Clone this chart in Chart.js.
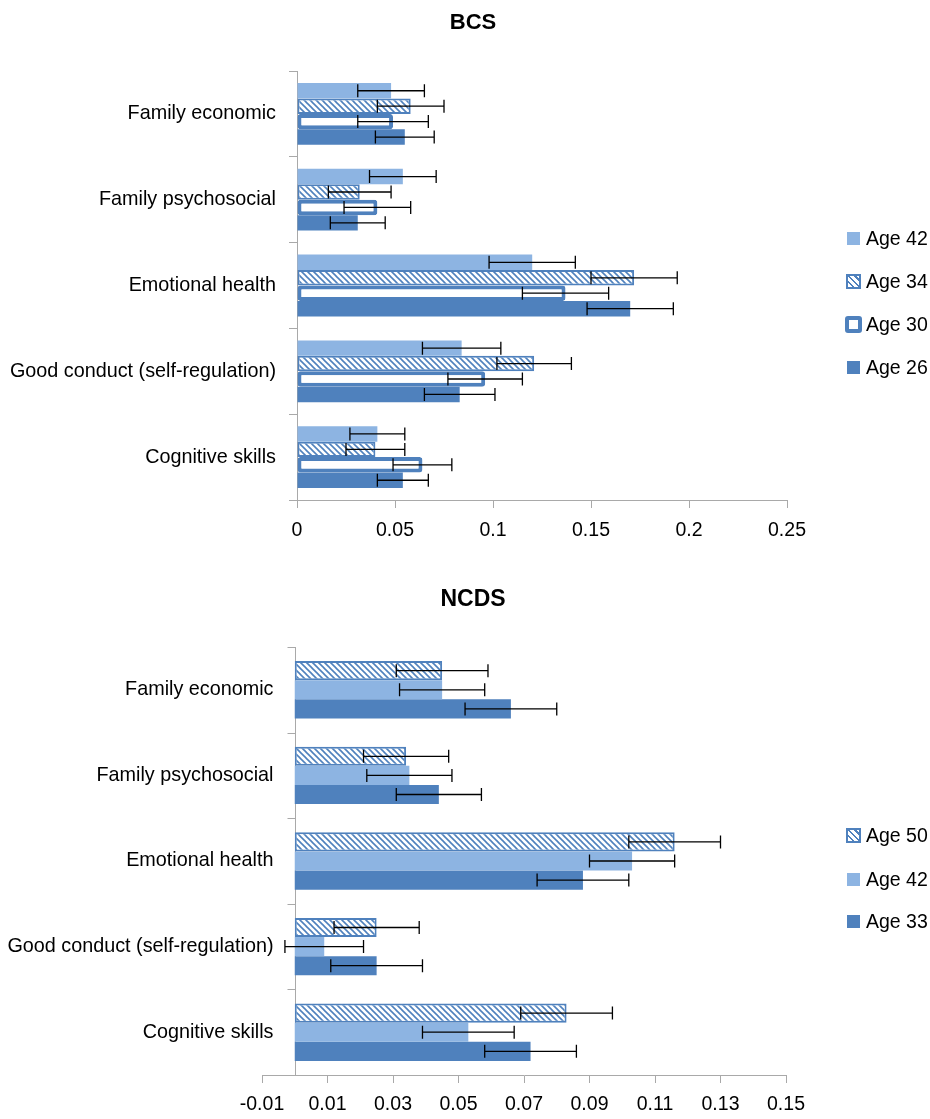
<!DOCTYPE html>
<html lang="en">
<head>
    <meta charset="UTF-8">
    <title>BCS / NCDS</title>
    <script src="https://cdn.jsdelivr.net/npm/chart.js"></script>
    <style>
        body {
            margin: 0;
            background: #fff;
            font-family: 'Liberation Sans', Arial, sans-serif;
            color: #000;
        }
        .page {
            position: relative;
            width: 930px;
            height: 1119px;
        }
        canvas {
            display: block;
        }
        .chart-title {
            position: absolute;
            left: 473px;
            transform: translateX(-50%);
            font-weight: bold;
            line-height: 1;
        }
        .legend-item {
            position: absolute;
            left: 844px;
            height: 24px;
            display: flex;
            align-items: center;
            font-size: 19.5px;
        }
        .swatch-box {
            width: 18px;
            height: 18px;
            margin-right: 4px;
            display: flex;
            align-items: center;
            justify-content: center;
        }
        .sw-light { width: 13px; height: 13px; background: #8db4e2; }
        .sw-dark { width: 13px; height: 13px; background: #4f81bd; }
        .sw-hatch {
            width: 15px; height: 15px; box-sizing: border-box;
            border: 2px solid #4f81bd;
            background: repeating-linear-gradient(45deg, #fff 0 3px, #4f81bd 3px 4.5px);
        }
        .sw-outline {
            width: 17px; height: 17px; box-sizing: border-box;
            border: 4px solid #4f81bd; border-radius: 3px; background: #fff;
        }
    </style>
</head>
<body>
<div class="page">
    <div class="chart-title" style="top: 11px; font-size: 22px;">BCS</div>
    <canvas id="bcsChart" width="930" height="560"></canvas>
    <div class="chart-title" style="top: 587px; font-size: 23px;">NCDS</div>
    <canvas id="ncdsChart" width="930" height="559"></canvas>

    <div class="legend-item" style="top: 226px;"><div class="swatch-box"><div class="sw-light"></div></div>Age 42</div>
    <div class="legend-item" style="top: 269px;"><div class="swatch-box"><div class="sw-hatch"></div></div>Age 34</div>
    <div class="legend-item" style="top: 312px;"><div class="swatch-box"><div class="sw-outline"></div></div>Age 30</div>
    <div class="legend-item" style="top: 355px;"><div class="swatch-box"><div class="sw-dark"></div></div>Age 26</div>

    <div class="legend-item" style="top: 823px;"><div class="swatch-box"><div class="sw-hatch"></div></div>Age 50</div>
    <div class="legend-item" style="top: 867px;"><div class="swatch-box"><div class="sw-light"></div></div>Age 42</div>
    <div class="legend-item" style="top: 909px;"><div class="swatch-box"><div class="sw-dark"></div></div>Age 33</div>
</div>

<script>
    const categories = ['Family economic', 'Family psychosocial', 'Emotional health', 'Good conduct (self-regulation)', 'Cognitive skills'];

    // BCS values and error half-widths
    const bcsAge42 = [0.048, 0.054, 0.120, 0.084, 0.041];
    const bcsAge42Err = [0.017, 0.017, 0.022, 0.020, 0.014];
    const bcsAge34 = [0.058, 0.032, 0.172, 0.121, 0.040];
    const bcsAge34Err = [0.017, 0.016, 0.022, 0.019, 0.015];
    const bcsAge30 = [0.049, 0.041, 0.137, 0.096, 0.064];
    const bcsAge30Err = [0.018, 0.017, 0.022, 0.019, 0.015];
    const bcsAge26 = [0.055, 0.031, 0.170, 0.083, 0.054];
    const bcsAge26Err = [0.015, 0.014, 0.022, 0.018, 0.013];

    // NCDS values and error half-widths
    const ncdsAge50 = [0.045, 0.034, 0.116, 0.025, 0.083];
    const ncdsAge50Err = [0.014, 0.013, 0.014, 0.013, 0.014];
    const ncdsAge42 = [0.045, 0.035, 0.103, 0.009, 0.053];
    const ncdsAge42Err = [0.013, 0.013, 0.013, 0.012, 0.014];
    const ncdsAge33 = [0.066, 0.044, 0.088, 0.025, 0.072];
    const ncdsAge33Err = [0.014, 0.013, 0.014, 0.014, 0.014];

    const bcsTicks = [0, 0.25, 0.05];      // min, max, step
    const ncdsTicks = [-0.01, 0.15, 0.02];

    const darkBlue = '#4f81bd';
    const lightBlue = '#8db4e2';
    const axisGray = '#a9a9a9';
    const labelFont = "19.8px 'Liberation Sans', Arial, sans-serif";

    Chart.defaults.font.family = "'Liberation Sans', Arial, sans-serif";
    Chart.defaults.font.size = 19.5;
    Chart.defaults.color = '#000';

    // diagonal hatch fill
    function makeHatch() {
        const c = document.createElement('canvas');
        c.width = 6; c.height = 6;
        const g = c.getContext('2d');
        g.fillStyle = '#fff';
        g.fillRect(0, 0, 6, 6);
        g.strokeStyle = darkBlue;
        g.lineWidth = 1.6;
        [[-6, 0], [0, 0], [6, 0]].forEach(([ox, oy]) => {
            g.beginPath();
            g.moveTo(ox - 1, oy - 1);
            g.lineTo(ox + 7, oy + 7);
            g.stroke();
        });
        return g.createPattern(c, 'repeat');
    }
    const hatch = makeHatch();

    const fmt = v => String(Math.round(v * 100) / 100);

    // error bars with caps, on top of the bars
    const errorBars = {
        id: 'errorBars',
        afterDatasetsDraw(chart) {
            const ctx = chart.ctx;
            const xs = chart.scales.x;
            ctx.save();
            ctx.strokeStyle = '#000';
            ctx.lineWidth = 1.3;
            chart.data.datasets.forEach((ds, d) => {
                const meta = chart.getDatasetMeta(d);
                meta.data.forEach((bar, i) => {
                    const lo = xs.getPixelForValue(ds.data[i] - ds.errors[i]);
                    const hi = xs.getPixelForValue(ds.data[i] + ds.errors[i]);
                    const y = bar.y;
                    ctx.beginPath();
                    ctx.moveTo(lo, y); ctx.lineTo(hi, y);
                    ctx.moveTo(lo, y - 6.5); ctx.lineTo(lo, y + 6.5);
                    ctx.moveTo(hi, y - 6.5); ctx.lineTo(hi, y + 6.5);
                    ctx.stroke();
                });
            });
            ctx.restore();
        }
    };

    // NCDS: value axis starts at -0.01, so the category axis and its labels sit at value 0
    const zeroAxis = {
        id: 'zeroAxis',
        beforeDatasetsDraw(chart) {
            const ctx = chart.ctx;
            const area = chart.chartArea;
            const ys = chart.scales.y;
            const x = Math.round(chart.scales.x.getPixelForValue(0)) + 0.5;
            const half = (ys.getPixelForValue(1) - ys.getPixelForValue(0)) / 2;
            ctx.save();
            ctx.strokeStyle = axisGray;
            ctx.lineWidth = 1;
            ctx.beginPath();
            ctx.moveTo(x, area.top);
            ctx.lineTo(x, area.bottom);
            for (let i = 0; i <= categories.length; i++) {
                const yy = Math.round(ys.getPixelForValue(i) - half) + 0.5;
                ctx.moveTo(x - 8, yy);
                ctx.lineTo(x, yy);
            }
            ctx.stroke();

            ctx.font = labelFont;
            ctx.fillStyle = '#000';
            ctx.textAlign = 'right';
            ctx.textBaseline = 'middle';
            chart.data.labels.forEach((lab, i) => {
                ctx.fillText(lab, x - 22, ys.getPixelForValue(i));
            });
            ctx.restore();
        }
    };

    new Chart(document.getElementById('bcsChart'), {
        type: 'bar',
        data: {
            labels: categories,
            datasets: [
                { label: 'Age 42', data: bcsAge42, errors: bcsAge42Err, backgroundColor: lightBlue, borderWidth: 0 },
                { label: 'Age 34', data: bcsAge34, errors: bcsAge34Err, backgroundColor: hatch, borderColor: darkBlue, borderWidth: 2, borderSkipped: false },
                { label: 'Age 30', data: bcsAge30, errors: bcsAge30Err, backgroundColor: '#fff', borderColor: darkBlue, borderWidth: 4, borderSkipped: false, borderRadius: 3 },
                { label: 'Age 26', data: bcsAge26, errors: bcsAge26Err, backgroundColor: darkBlue, borderWidth: 0 }
            ]
        },
        options: {
            indexAxis: 'y',
            responsive: false,
            animation: false,
            datasets: { bar: { categoryPercentage: 0.72, barPercentage: 1.0 } },
            layout: { padding: { top: 71, right: 143, bottom: 0, left: 0 } },
            plugins: { legend: { display: false }, tooltip: { enabled: false } },
            scales: {
                x: {
                    min: bcsTicks[0], max: bcsTicks[1],
                    ticks: { stepSize: bcsTicks[2], padding: 11, callback: fmt },
                    grid: { drawOnChartArea: false, tickLength: 8, color: axisGray },
                    border: { color: axisGray },
                    afterFit: s => { s.height = 60; }
                },
                y: {
                    grid: { offset: true, drawOnChartArea: false, tickLength: 8, color: axisGray },
                    border: { color: axisGray },
                    ticks: { padding: 13, font: { size: 19.8 } },
                    afterFit: s => { s.width = 297; }
                }
            }
        },
        plugins: [errorBars]
    });

    new Chart(document.getElementById('ncdsChart'), {
        type: 'bar',
        data: {
            labels: categories,
            datasets: [
                { label: 'Age 50', data: ncdsAge50, errors: ncdsAge50Err, backgroundColor: hatch, borderColor: darkBlue, borderWidth: 2, borderSkipped: false },
                { label: 'Age 42', data: ncdsAge42, errors: ncdsAge42Err, backgroundColor: lightBlue, borderWidth: 0 },
                { label: 'Age 33', data: ncdsAge33, errors: ncdsAge33Err, backgroundColor: darkBlue, borderWidth: 0 }
            ]
        },
        options: {
            indexAxis: 'y',
            responsive: false,
            animation: false,
            datasets: { bar: { categoryPercentage: 0.67, barPercentage: 1.0 } },
            layout: { padding: { top: 87, right: 144, bottom: 0, left: 0 } },
            plugins: { legend: { display: false }, tooltip: { enabled: false } },
            scales: {
                x: {
                    min: ncdsTicks[0], max: ncdsTicks[1],
                    ticks: { stepSize: ncdsTicks[2], padding: 10, callback: fmt },
                    grid: { drawOnChartArea: false, tickLength: 8, color: axisGray },
                    border: { color: axisGray },
                    afterFit: s => { s.height = 44; }
                },
                y: {
                    grid: { display: false, drawTicks: false },
                    border: { display: false },
                    ticks: { display: false },
                    afterFit: s => { s.width = 262; }
                }
            }
        },
        plugins: [zeroAxis, errorBars]
    });
</script>
</body>
</html>
